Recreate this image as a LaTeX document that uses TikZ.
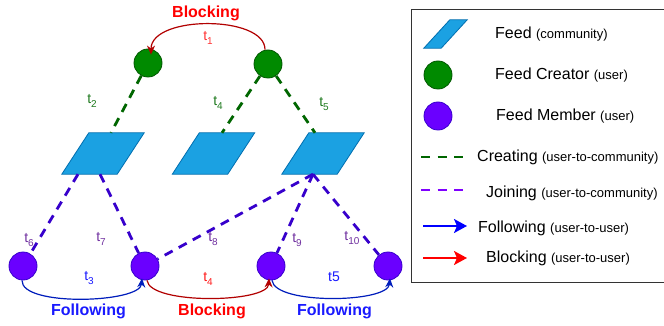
\documentclass[tikz,border=0pt]{standalone}
\usepackage{fontspec}
\setmainfont{Liberation Sans}
\usetikzlibrary{shapes.geometric,arrows.meta,calc}
\definecolor{feedfill}{HTML}{1BA1E2}
\definecolor{feedline}{HTML}{006EAF}
\definecolor{crfill}{HTML}{008A00}
\definecolor{crline}{HTML}{005700}
\definecolor{mbfill}{HTML}{6A00FF}
\definecolor{mbline}{HTML}{3700CC}
\definecolor{crdash}{HTML}{006600}
\definecolor{jndash}{HTML}{3700CC}
\definecolor{flarc}{HTML}{001DBC}
\definecolor{blarc}{HTML}{B20000}
\definecolor{tgreen}{HTML}{1F7A1F}
\definecolor{tpurple}{HTML}{7030A0}
\definecolor{tblue}{HTML}{1A1AFF}
\definecolor{tred}{HTML}{FF1A1A}
\definecolor{tlred}{HTML}{FF3333}
\definecolor{legcr}{HTML}{006600}
\definecolor{legjn}{HTML}{7F00FF}
\definecolor{legblue}{HTML}{0000FF}
\definecolor{legred}{HTML}{FF0000}
\definecolor{legborder}{HTML}{333333}
\newcommand{\feedpara}[2]{%
  \filldraw[feedbox] (#1.south west) -- ([xshift=-#2]#1.south east) -- (#1.north east) -- ([xshift=#2]#1.north west) -- cycle;}
\newcommand{\tsub}[1]{t\raisebox{-3.5pt}{\fontsize{10}{12}\selectfont #1}}
\begin{document}
\begin{tikzpicture}[x=1pt,y=-1pt,
  feed/.style={rectangle, minimum width=82pt, minimum height=41pt, inner sep=0pt},
  feedbox/.style={fill=feedfill, draw=feedline, line width=0.8pt, line join=miter},
  creator/.style={circle, minimum size=28pt, inner sep=0pt, fill=crfill, draw=crline, line width=0.8pt},
  member/.style={circle, minimum size=28pt, inner sep=0pt, fill=mbfill, draw=mbline, line width=0.8pt},
  creating/.style={draw=crdash, line width=2.8pt, dash pattern=on 9pt off 7pt},
  joining/.style={draw=jndash, line width=2.8pt, dash pattern=on 9pt off 7pt},
  follow/.style={draw=flarc, line width=1.2pt, -{Stealth[length=9pt,width=8pt]}},
  blocked/.style={draw=blarc, line width=1.2pt, -{Stealth[length=9pt,width=8pt]}},
  lbl/.style={font=\fontsize{14}{17}\selectfont, inner sep=0pt},
  big/.style={font=\fontsize{16}{19}\selectfont\bfseries, inner sep=0pt},
  legtext/.style={anchor=west, inner sep=0pt, font=\fontsize{16}{19}\selectfont}
]
\useasboundingbox (0,0) rectangle (664,326);
\fill[white] (0,0) rectangle (664,326);

% creators
\node[creator] (g1) at (148,63) {};
\node[creator] (g2) at (268,64) {};
% feeds
\node[feed] (f1) at (103,153.5) {};
\node[feed] (f2) at (213.5,153.5) {};
\node[feed] (f3) at (323,153.5) {};
\feedpara{f1}{27pt}
\feedpara{f2}{27pt}
\feedpara{f3}{27pt}
% members
\node[member] (m1) at (23,266) {};
\node[member] (m2) at (145,266) {};
\node[member] (m3) at (271,266) {};
\node[member] (m4) at (388,266) {};

% creating edges
\draw[creating] (g1) -- ([xshift=8pt]f1.north);
\draw[creating] (g2) -- ([xshift=8.5pt]f2.north);
\draw[creating] (g2) -- ([xshift=-8pt]f3.north);

% joining edges
\draw[joining] ([xshift=-25pt]f1.south) -- (m1);
\draw[joining] ([xshift=-3pt]f1.south) -- (m2);
\draw[joining] ([xshift=-10pt]f3.south) -- (m2);
\draw[joining] ([xshift=-10pt]f3.south) -- (m3);
\draw[joining] ([xshift=-10pt]f3.south) -- (m4);

% user-to-user arcs
\draw[blocked] ([xshift=-3pt]g2.north) .. controls (265,15) and (151,15) .. ([xshift=3pt,yshift=-6pt]g1.north);
\draw[follow] ([xshift=-1pt]m1.south) .. controls (21,307) and (140,303) .. ([xshift=-3pt,yshift=2pt]m2.south);
\draw[blocked] ([xshift=2pt]m2.south) .. controls (150,305) and (268,303) .. ([xshift=-2pt,yshift=2pt]m3.south);
\draw[follow] ([xshift=1pt]m3.south) .. controls (275,305) and (388,303) .. ([xshift=2pt,yshift=2pt]m4.south);

% labels
\node[big, text=legred] (bl1) at (206,13) {Blocking};
\node[lbl, text=tlred] (t1) at (208,38) {\tsub{1}};
\node[lbl, text=tgreen] (t2) at (92,101) {\tsub{2}};
\node[lbl, text=tgreen] (t4a) at (218,103) {\tsub{4}};
\node[lbl, text=tgreen] (t5a) at (324,104) {\tsub{5}};
\node[lbl, text=tpurple] (t6) at (29,240) {\tsub{6}};
\node[lbl, text=tpurple] (t7) at (101,239) {\tsub{7}};
\node[lbl, text=tpurple] (t8) at (213,239) {\tsub{8}};
\node[lbl, text=tpurple] (t9) at (297,240) {\tsub{9}};
\node[lbl, text=tpurple] (t10) at (352,238) {\tsub{10}};
\node[lbl, text=tblue] (t3) at (89,278) {\tsub{3}};
\node[lbl, text=tred] (t4b) at (208,279) {\tsub{4}};
\node[lbl, text=tblue] (t5b) at (334,277) {t5};
\node[big, text=tblue] (fo1) at (88.5,311) {Following};
\node[big, text=legred] (bl2) at (212,311) {Blocking};
\node[big, text=tblue] (fo2) at (334.5,311) {Following};

% legend
\draw[draw=legborder, line width=1pt] (411,10) rectangle (666,282);
\node[feed, minimum width=43pt, minimum height=28pt] (lf) at (445.5,34) {};
\feedpara{lf}{26pt}
\node[creator] (lc) at (438,75) {};
\node[member] (lm) at (438,116) {};
\coordinate (ld1a) at (421,157); \coordinate (ld1b) at (463,157);
\coordinate (ld2a) at (421,190); \coordinate (ld2b) at (463,190);
\coordinate (la1a) at (423,226); \coordinate (la1b) at (467,226);
\coordinate (la2a) at (423,258); \coordinate (la2b) at (467,258);
\draw[draw=legcr, line width=2.8pt, dash pattern=on 9pt off 7.5pt] (ld1a) -- (ld1b);
\draw[draw=legjn, line width=2.8pt, dash pattern=on 9pt off 7.5pt] (ld2a) -- (ld2b);
\draw[draw=legblue, line width=2pt, -{Stealth[length=13pt,width=14pt,inset=3pt]}] (la1a) -- (la1b);
\draw[draw=legred, line width=2pt, -{Stealth[length=13pt,width=14pt,inset=3pt]}] (la2a) -- (la2b);
\node[legtext] (lt1) at (495,34) {Feed {\fontsize{13}{15}\selectfont (community)}};
\node[legtext] (lt2) at (495,75) {Feed Creator {\fontsize{13}{15}\selectfont (user)}};
\node[legtext] (lt3) at (496,116) {Feed Member {\fontsize{13}{15}\selectfont (user)}};
\node[legtext] (lt4) at (477,157) {Creating {\fontsize{13}{15}\selectfont (user-to-community)}};
\node[legtext] (lt5) at (486,193) {Joining {\fontsize{13}{15}\selectfont (user-to-community)}};
\node[legtext] (lt6) at (478,228) {Following {\fontsize{13}{15}\selectfont (user-to-user)}};
\node[legtext] (lt7) at (486,258) {Blocking {\fontsize{13}{15}\selectfont (user-to-user)}};
\end{tikzpicture}
\end{document}
